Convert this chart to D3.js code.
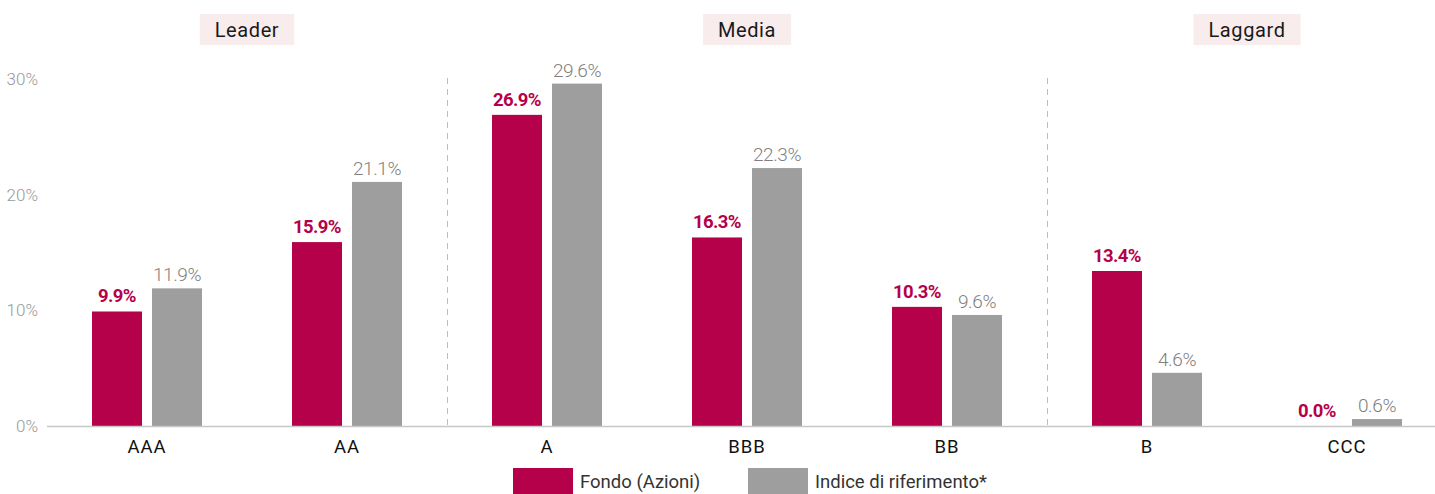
<!DOCTYPE html>
<html>
<head>
<meta charset="utf-8">
<script src="https://cdn.jsdelivr.net/npm/d3@7"></script>
<style>
  html, body { margin: 0; padding: 0; background: #fff; }
  svg { display: block; font-family: Roboto, "Liberation Sans Narrow", sans-serif; }
</style>
</head>
<body>
<svg id="chart" width="1435" height="494"></svg>
<script>
// data
const categories = ["AAA", "AA", "A", "BBB", "BB", "B", "CCC"];
const seriesNames = ["Fondo (Azioni)", "Indice di riferimento*"];
const fondo = [9.9, 15.9, 26.9, 16.3, 10.3, 13.4, 0.0];
const indice = [11.9, 21.1, 29.6, 22.3, 9.6, 4.6, 0.6];
const yTicks = [0, 10, 20, 30];
const groups = [
  { label: "Leader", from: "AAA", to: "AA" },
  { label: "Media", from: "A", to: "BB" },
  { label: "Laggard", from: "B", to: "CCC" }
];

const colors = { "Fondo (Azioni)": "#b5004a", "Indice di riferimento*": "#9e9e9e" };

const svg = d3.select("#chart");

const x = d3.scaleBand().domain(categories).range([47, 1447]).padding(0);
const xSub = d3.scaleBand().domain(seriesNames).range([45, 155]).paddingInner(1 / 6);
const y = d3.scaleLinear().domain([0, 30]).range([426, 79]);

const rows = categories.map((c, i) => ({ cat: c, values: [fondo[i], indice[i]] }));

// group separators (dashed)
const sepLayer = svg.append("g").attr("class", "separators");
groups.slice(1).forEach((g) => {
  sepLayer
    .append("line")
    .attr("x1", x(g.from) + 0.5)
    .attr("x2", x(g.from) + 0.5)
    .attr("y1", y(30) - 1)
    .attr("y2", y(0))
    .attr("stroke", "#bdbdbd")
    .attr("stroke-width", 1)
    .attr("stroke-dasharray", "6,5");
});

// group headers
const head = svg
  .append("g")
  .attr("class", "group-headers")
  .selectAll("g")
  .data(groups)
  .join("g")
  .attr("transform", (d) => {
    const cx = (x(d.from) + x(d.to) + x.bandwidth()) / 2;
    return `translate(${cx}, 30)`;
  });

head.each(function (d) {
  const g = d3.select(this);
  const t = g
    .append("text")
    .attr("text-anchor", "middle")
    .attr("dy", "0.36em")
    .attr("fill", "#1a1a1a")
    .attr("font-size", "20px")
    .attr("letter-spacing", "0.6px")
    .text(d.label);
  const w = t.node().getComputedTextLength() + 30;
  g.insert("rect", "text")
    .attr("x", -w / 2)
    .attr("y", -16)
    .attr("width", w)
    .attr("height", 31)
    .attr("fill", "#f9eced");
});

// y axis labels
svg
  .append("g")
  .attr("class", "y-labels")
  .selectAll("text")
  .data(yTicks)
  .join("text")
  .attr("x", 38)
  .attr("y", (d) => y(d))
  .attr("dy", "0.35em")
  .attr("text-anchor", "end")
  .attr("fill", "#999")
  .attr("font-size", "17px")
  .attr("font-weight", 300)
  .text((d) => d + "%");

// bars
const barGroups = svg
  .append("g")
  .attr("class", "bars")
  .selectAll("g")
  .data(rows)
  .join("g")
  .attr("transform", (d) => `translate(${x(d.cat)},0)`);

barGroups
  .selectAll("rect")
  .data((d) => d.values.map((v, i) => ({ key: seriesNames[i], v })))
  .join("rect")
  .attr("x", (d) => xSub(d.key))
  .attr("width", xSub.bandwidth())
  .attr("y", (d) => y(d.v))
  .attr("height", (d) => y(0) - y(d.v))
  .attr("fill", (d) => colors[d.key]);

barGroups
  .selectAll("text")
  .data((d) => d.values.map((v, i) => ({ key: seriesNames[i], v, i })))
  .join("text")
  .attr("x", (d) => xSub(d.key) + xSub.bandwidth() / 2)
  .attr("y", (d) => y(d.v) - (d.i === 0 ? 9 : 7))
  .attr("text-anchor", "middle")
  .attr("font-size", (d) => (d.i === 0 ? "18.5px" : "19px"))
  .attr("letter-spacing", (d) => (d.i === 0 ? "-0.6px" : "-0.4px"))
  .attr("font-weight", (d) => (d.i === 0 ? "bold" : 300))
  .attr("fill", (d) => (d.i === 0 ? "#b5004a" : "#808080"))
  .text((d) => d.v.toFixed(1) + "%");

// x axis
svg
  .append("line")
  .attr("x1", 47)
  .attr("x2", 1435)
  .attr("y1", y(0) + 0.5)
  .attr("y2", y(0) + 0.5)
  .attr("stroke", "#c8c8c8")
  .attr("stroke-width", 1.5);

svg
  .append("g")
  .attr("class", "x-labels")
  .selectAll("text")
  .data(categories)
  .join("text")
  .attr("x", (d) => x(d) + x.bandwidth() / 2)
  .attr("y", 453)
  .attr("text-anchor", "middle")
  .attr("fill", "#111")
  .attr("font-size", "18.5px")
  .attr("letter-spacing", "1px")
  .text((d) => d);

// legend
const legend = svg
  .append("g")
  .attr("class", "legend")
  .selectAll("g")
  .data(seriesNames)
  .join("g")
  .attr("transform", (d, i) => `translate(${i === 0 ? 513 : 748}, 468)`);

legend
  .append("rect")
  .attr("width", 60)
  .attr("height", 26)
  .attr("fill", (d) => colors[d]);

legend
  .append("text")
  .attr("x", 67)
  .attr("y", 20)
  .attr("fill", "#333")
  .attr("font-size", "18.5px")
  .text((d) => d);
</script>
</body>
</html>
